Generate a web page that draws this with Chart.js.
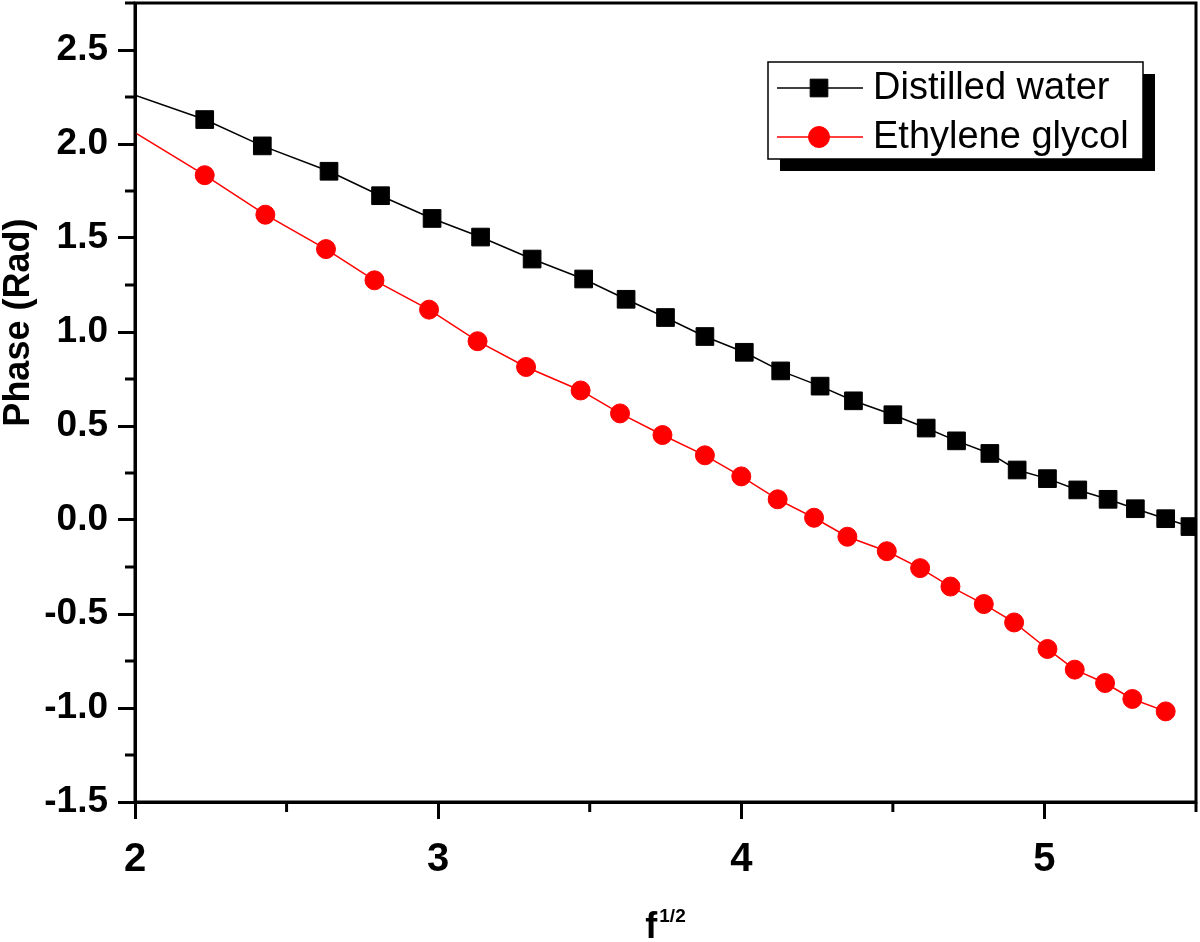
<!DOCTYPE html>
<html>
<head>
<meta charset="utf-8">
<script src="https://cdn.jsdelivr.net/npm/chart.js@4.4.0/dist/chart.umd.min.js"></script>
<style>
    html, body { margin: 0; padding: 0; background: #fff; }
    #wrap { width: 1200px; height: 942px; }
</style>
</head>
<body>
<div id="wrap"><canvas id="phaseChart"></canvas></div>
<script>
// values (x = f^1/2, y = phase in rad)
const waterX = [2.00, 2.23, 2.42, 2.64, 2.81, 2.98, 3.14, 3.31, 3.48, 3.62, 3.75, 3.88, 4.01, 4.13, 4.26, 4.37, 4.50, 4.61, 4.71, 4.82, 4.91, 5.01, 5.11, 5.21, 5.30, 5.40, 5.48];
const waterPhase = [2.26, 2.13, 1.99, 1.855, 1.725, 1.604, 1.505, 1.388, 1.282, 1.174, 1.077, 0.976, 0.892, 0.793, 0.712, 0.634, 0.560, 0.489, 0.421, 0.354, 0.266, 0.220, 0.160, 0.110, 0.060, 0.007, -0.035];

const glycolX = [2.00, 2.23, 2.43, 2.63, 2.79, 2.97, 3.13, 3.29, 3.47, 3.60, 3.74, 3.88, 4.00, 4.12, 4.24, 4.35, 4.48, 4.59, 4.69, 4.80, 4.90, 5.01, 5.10, 5.20, 5.29, 5.40];
const glycolPhase = [2.06, 1.834, 1.624, 1.441, 1.275, 1.119, 0.951, 0.814, 0.689, 0.567, 0.452, 0.344, 0.232, 0.110, 0.012, -0.089, -0.166, -0.256, -0.354, -0.447, -0.545, -0.686, -0.796, -0.867, -0.952, -1.018];

const seriesNames = ['Distilled water', 'Ethylene glycol'];
const xRange = [2, 5.5];
const yRange = [-1.5, 2.75];
const xTitle = 'f';
const xTitleSup = '1/2';
const yTitle = 'Phase (Rad)';

const FONT = '"Liberation Sans", Arial, Helvetica, sans-serif';
Chart.defaults.font.family = FONT;
Chart.defaults.color = '#000';

function toPoints(xs, ys) {
    return xs.map((x, i) => ({ x: x, y: ys[i] }));
}

// first point sits on the left axis, its marker is not shown
const hideFirst = (r) => (ctx) => ctx.dataIndex === 0 ? 0 : r;

// frame, minor ticks, titles and boxed legend with shadow
const decorations = {
    id: 'decorations',
    afterDatasetsDraw(chart) {
        const ctx = chart.ctx;
        const a = chart.chartArea;
        ctx.save();

        // minor ticks halfway between major ones
        ctx.strokeStyle = '#000';
        ctx.lineWidth = 3;
        ['x', 'y'].forEach(id => {
            const s = chart.scales[id];
            const vals = s.ticks.map(t => t.value);
            if (vals.length < 2) return;
            const step = vals[1] - vals[0];
            const minors = [];
            vals.forEach(v => minors.push(v + step / 2));
            minors.push(vals[0] - step / 2);
            minors.forEach(m => {
                if (m < s.min - 1e-9 || m > s.max + 1e-9) return;
                const p = s.getPixelForValue(m);
                ctx.beginPath();
                if (id === 'x') {
                    ctx.moveTo(p, a.bottom);
                    ctx.lineTo(p, a.bottom + 10);
                } else {
                    ctx.moveTo(a.left, p);
                    ctx.lineTo(a.left - 10, p);
                }
                ctx.stroke();
            });
        });

        // plot frame
        ctx.lineWidth = 3;
        ctx.strokeRect(a.left, a.top, a.right - a.left, a.bottom - a.top);
        ctx.restore();
    },
    afterDraw(chart) {
        const ctx = chart.ctx;
        const a = chart.chartArea;
        ctx.save();
        ctx.fillStyle = '#000';

        // x title with superscript
        ctx.textBaseline = 'alphabetic';
        ctx.textAlign = 'left';
        ctx.font = 'bold 36px ' + FONT;
        const wMain = ctx.measureText(xTitle).width;
        ctx.font = 'bold 19px ' + FONT;
        const wSup = ctx.measureText(xTitleSup).width;
        const cx = (a.left + a.right) / 2;
        let tx = cx - (wMain + wSup + 2) / 2;
        ctx.font = 'bold 36px ' + FONT;
        ctx.fillText(xTitle, tx, 938);
        ctx.font = 'bold 19px ' + FONT;
        ctx.fillText(xTitleSup, tx + wMain + 2, 922);

        // y title
        ctx.save();
        ctx.translate(29, a.top + (a.bottom - a.top) * 0.40);
        ctx.rotate(-Math.PI / 2);
        ctx.textAlign = 'center';
        ctx.font = 'bold 36px ' + FONT;
        ctx.fillText(yTitle, 0, 0);
        ctx.restore();

        // legend box
        const bw = 375, bh = 97;
        const left = a.right - 53 - bw;
        const top = a.top + 59;
        ctx.fillStyle = '#000';
        ctx.fillRect(left + 12, top + 12, bw, bh);
        ctx.fillStyle = '#fff';
        ctx.fillRect(left, top, bw, bh);
        ctx.strokeStyle = '#000';
        ctx.lineWidth = 1.5;
        ctx.strokeRect(left, top, bw, bh);

        chart.data.datasets.forEach((ds, i) => {
            const y = top + 26 + i * 49;
            ctx.strokeStyle = ds.borderColor;
            ctx.lineWidth = ds.borderWidth;
            ctx.beginPath();
            ctx.moveTo(left + 9, y);
            ctx.lineTo(left + 95, y);
            ctx.stroke();
            ctx.fillStyle = ds.pointBackgroundColor;
            ctx.strokeStyle = ds.pointBorderColor;
            ctx.lineWidth = ds.pointBorderWidth;
            Chart.helpers.drawPoint(ctx, {
                pointStyle: ds.pointStyle,
                radius: ds.legendRadius,
                borderWidth: ds.pointBorderWidth,
                rotation: 0
            }, left + 51, y);
            ctx.fillStyle = '#000';
            ctx.font = '38px ' + FONT;
            ctx.textAlign = 'left';
            ctx.textBaseline = 'middle';
            ctx.fillText(ds.label, left + 105, y + 1);
        });
        ctx.restore();
    }
};

const axisCommon = {
    type: 'linear',
    grid: {
        drawOnChartArea: false,
        drawTicks: true,
        tickLength: 17,
        tickWidth: 3,
        tickColor: '#000'
    },
    border: { display: true, color: '#000', width: 3 },
    title: { display: false }
};

new Chart(document.getElementById('phaseChart'), {
    type: 'line',
    data: {
        datasets: [
            {
                label: seriesNames[0],
                data: toPoints(waterX, waterPhase),
                borderColor: '#000',
                borderWidth: 1.5,
                pointStyle: 'rect',
                pointRadius: hideFirst(12.5),
                legendRadius: 12.5,
                pointBackgroundColor: '#000',
                pointBorderColor: '#000',
                pointBorderWidth: 1,
                tension: 0,
                clip: 0
            },
            {
                label: seriesNames[1],
                data: toPoints(glycolX, glycolPhase),
                borderColor: '#ff0000',
                borderWidth: 1.5,
                pointStyle: 'circle',
                pointRadius: hideFirst(9.5),
                legendRadius: 10.5,
                pointBackgroundColor: '#ff0000',
                pointBorderColor: '#ff0000',
                pointBorderWidth: 1,
                tension: 0,
                clip: 0
            }
        ]
    },
    options: {
        responsive: true,
        maintainAspectRatio: false,
        animation: false,
        layout: {
            autoPadding: false,
            padding: { top: 3, right: 4, left: 0, bottom: 0 }
        },
        plugins: {
            legend: { display: false },
            tooltip: { enabled: false }
        },
        scales: {
            x: {
                ...axisCommon,
                min: xRange[0],
                max: xRange[1],
                afterFit: (s) => {
                    s.height = 140;
                    s.paddingLeft = 0;
                    s.paddingRight = 0;
                },
                ticks: {
                    stepSize: 1,
                    includeBounds: false,
                    padding: 17,
                    font: { size: 40, weight: 'bold' },
                    color: '#000',
                    maxRotation: 0,
                    callback: (v) => String(v)
                }
            },
            y: {
                ...axisCommon,
                min: yRange[0],
                max: yRange[1],
                afterFit: (s) => {
                    s.width = 135;
                    s.paddingTop = 0;
                    s.paddingBottom = 0;
                },
                ticks: {
                    stepSize: 0.5,
                    includeBounds: false,
                    padding: 10,
                    font: { size: 37, weight: 'bold' },
                    color: '#000',
                    callback: (v) => v.toFixed(1)
                }
            }
        }
    },
    plugins: [decorations]
});
</script>
</body>
</html>
